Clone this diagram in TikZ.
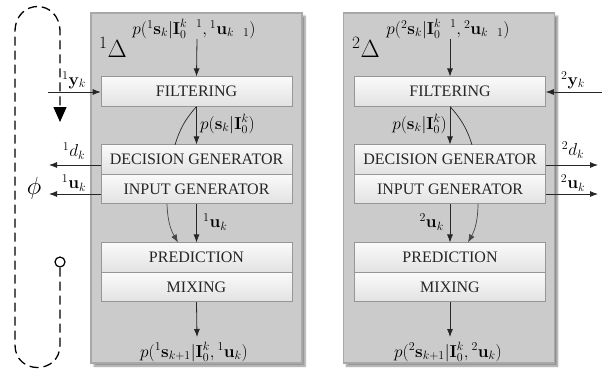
\documentclass[tikz,border=0pt]{standalone}
\usepackage{amsmath}
\usepackage[no-math]{fontspec}
\setmainfont{Liberation Serif}
\usetikzlibrary{arrows.meta,shadows.blur,positioning}

\definecolor{outerfill}{RGB}{203,203,203}
\definecolor{outerline}{RGB}{168,168,168}
\definecolor{innerline}{RGB}{150,150,150}
\definecolor{innertop}{RGB}{250,250,250}
\definecolor{innerbot}{RGB}{226,226,226}
\definecolor{arrowgray}{RGB}{70,70,70}

\tikzset{
  agent/.style={draw=outerline, line width=1.4pt, fill=outerfill,
    minimum width=211pt, minimum height=350pt, inner sep=0pt,
    blur shadow={shadow xshift=3pt, shadow yshift=-3pt, shadow blur steps=6, shadow opacity=45}},
  block/.style={draw=innerline, line width=0.6pt, top color=innertop, bottom color=innerbot,
    minimum width=191pt, minimum height=29.5pt, inner sep=0pt, text=black!85,
    font=\fontsize{16}{18}\selectfont},
  lbl/.style={inner sep=0pt, font=\fontsize{17}{19}\selectfont},
  flow/.style={-{Latex[length=8pt,width=6pt]}, line width=0.8pt, draw=black!85},
  soft/.style={-{Latex[length=8pt,width=6pt]}, line width=0.7pt, draw=arrowgray},
  link/.style={line width=0.7pt, draw=black!85},
  loop/.style={line width=1.3pt, dash pattern=on 9pt off 5pt},
}

\newcommand{\gapone}{\phantom{-}1}

\begin{document}
\begin{tikzpicture}[x=1pt,y=-1pt]
\useasboundingbox (0,0) rectangle (602,373);

% two agents
\node[agent] (A1) at (196.5,188) {};
\node[agent] (A2) at (449,188) {};

\node[font=\fontsize{24}{26}\selectfont, inner sep=0pt] (D1) at (113,47) {$^{1}\Delta$};
\node[font=\fontsize{24}{26}\selectfont, inner sep=0pt] (D2) at (366,47) {$^{2}\Delta$};

% agent 1 blocks
\node[block] (f1) at (196.5,91.5) {FILTERING};
\node[block] (d1) at (196.5,159.5) {DECISION GENERATOR};
\node[block] (g1) at (196.5,189) {INPUT GENERATOR};
\node[block] (p1) at (196.5,257.5) {PREDICTION};
\node[block] (m1) at (196.5,287) {MIXING};

% agent 2 blocks
\node[block] (f2) at (450,91.5) {FILTERING};
\node[block] (d2) at (450,159.5) {DECISION GENERATOR};
\node[block] (g2) at (450,189) {INPUT GENERATOR};
\node[block] (p2) at (450,257.5) {PREDICTION};
\node[block] (m2) at (450,287) {MIXING};

% agent 1 internal flow
\node[lbl] (pin1) at (194,29) {$p({}^{1}\mathbf{s}_k|\mathbf{I}_0^{k\gapone},{}^{1}\mathbf{u}_{k\gapone})$};
\coordinate (tin1) at (197,39);
\draw[flow] (tin1) -- (f1.north);
\draw[flow] (f1.south) -- (d1.north);
\node[lbl, anchor=west] (pf1) at (200,124) {$p(\mathbf{s}_k|\mathbf{I}_0^k)$};
\coordinate (cs1) at (175,144.75);
\draw[link] (cs1) to[bend left=12] (f1.south);
\draw[flow] (g1.south) -- (p1.north);
\node[lbl, anchor=west] (u1) at (203,222) {${}^{1}\mathbf{u}_k$};
\coordinate (ga1) at (167,204);
\coordinate (pa1) at (178,242.5);
\draw[soft] (ga1) to[bend right=14] (pa1);
\coordinate (out1) at (197,337);
\draw[flow] (m1.south) -- (out1);
\node[lbl] (pout1) at (194,352) {$p({}^{1}\mathbf{s}_{k+1}|\mathbf{I}_0^{k},{}^{1}\mathbf{u}_{k})$};

% agent 2 internal flow
\node[lbl] (pin2) at (448,29) {$p({}^{2}\mathbf{s}_k|\mathbf{I}_0^{k\gapone},{}^{2}\mathbf{u}_{k\gapone})$};
\coordinate (tin2) at (450,39);
\draw[flow] (tin2) -- (f2.north);
\draw[flow] (f2.south) -- (d2.north);
\node[lbl, anchor=east] (pf2) at (447,124) {$p(\mathbf{s}_k|\mathbf{I}_0^k)$};
\coordinate (cs2) at (472,144.75);
\draw[link] (f2.south) to[bend left=12] (cs2);
\draw[flow] (g2.south) -- (p2.north);
\node[lbl, anchor=east] (u2) at (444,222) {${}^{2}\mathbf{u}_k$};
\coordinate (ga2) at (478,204);
\coordinate (pa2) at (468,242.5);
\draw[soft] (ga2) to[bend left=14] (pa2);
\coordinate (out2) at (450,337);
\draw[flow] (m2.south) -- (out2);
\node[lbl] (pout2) at (448,352) {$p({}^{2}\mathbf{s}_{k+1}|\mathbf{I}_0^{k},{}^{2}\mathbf{u}_{k})$};

% agent 1 external signals
\coordinate (y1s) at (48,92);
\draw[flow] (y1s) -- (y1s -| f1.west);
\node[lbl] (y1) at (74,80) {${}^{1}\mathbf{y}_k$};
\coordinate (d1e) at (49,165);
\draw[flow] (d1e -| d1.west) -- (d1e);
\node[lbl] (dk1) at (74,151) {${}^{1}d_k$};
\coordinate (u1e) at (49,194);
\draw[flow] (u1e -| g1.west) -- (u1e);
\node[lbl] (uk1) at (74,183) {${}^{1}\mathbf{u}_k$};
\node[inner sep=0pt, font=\fontsize{26}{28}\selectfont] (phi) at (34,188) {$\phi$};

% agent 2 external signals
\coordinate (y2s) at (602,92);
\draw[flow] (y2s) -- (y2s -| f2.east);
\node[lbl] (y2) at (573,80) {${}^{2}\mathbf{y}_k$};
\coordinate (d2e) at (598,165);
\draw[flow] (d2e -| d2.east) -- (d2e);
\node[lbl] (dk2) at (573,150) {${}^{2}d_k$};
\coordinate (u2e) at (598,194);
\draw[flow] (u2e -| g2.east) -- (u2e);
\node[lbl] (uk2) at (573,183) {${}^{2}\mathbf{u}_k$};

% dashed loop on the left
\node[draw, circle, line width=1.2pt, fill=white, minimum size=10pt, inner sep=0pt] (start) at (60,262) {};
\coordinate (lbot) at (15,345);
\coordinate (ltop) at (15,32);
\coordinate (rtop) at (60,32);
\coordinate (tip) at (60,122);
\draw[loop, -{Triangle[length=15pt,width=13pt]}]
  (start.south) -- (60,345) .. controls (60,375) and (15,375) .. (lbot)
  -- (ltop) .. controls (15,-2) and (60,-2) .. (rtop) -- (tip);
\end{tikzpicture}
\end{document}
